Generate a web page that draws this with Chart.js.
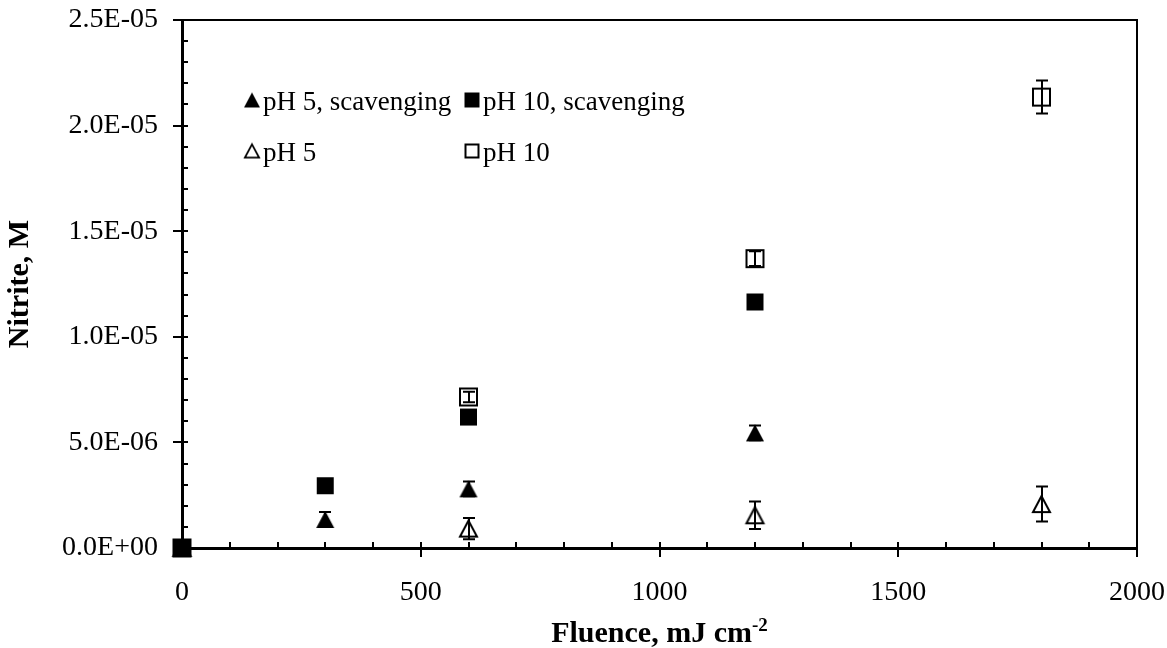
<!DOCTYPE html>
<html>
<head>
<meta charset="utf-8">
<script src="https://cdn.jsdelivr.net/npm/chart.js@4.4.0/dist/chart.umd.min.js"></script>
<style>
  html, body { margin: 0; padding: 0; background: #fff; }
  #wrap { width: 1167px; height: 648px; }
</style>
</head>
<body>
<div id="wrap"><canvas id="nitriteChart" width="1167" height="648"></canvas></div>
<script>
// values
const fluenceScav = [0, 300, 600, 1200];
const fluencePlain = [0, 600, 1200, 1800];

const ph5Scav = [0, 1.35e-6, 2.8e-6, 5.45e-6];
const ph5ScavErr = [0, 0.35e-6, 0.35e-6, 0.35e-6];
const ph10Scav = [0, 2.95e-6, 6.2e-6, 11.65e-6];
const ph10ScavErr = [0, 0, 0, 0];
const ph5 = [0, 0.92e-6, 1.55e-6, 2.08e-6];
const ph5Err = [0, 0.5e-6, 0.65e-6, 0.83e-6];
const ph10 = [0, 7.15e-6, 13.7e-6, 21.35e-6];
const ph10Err = [0, 0.25e-6, 0.35e-6, 0.78e-6];

const xTicks = [0, 500, 1000, 1500, 2000];
const yTicks = [0, 5e-6, 1e-5, 1.5e-5, 2e-5, 2.5e-5];

const FONT = "'Liberation Serif', 'Times New Roman', serif";

// 2.5e-5 -> "2.5E-05"
function sciLabel(v) {
  if (v === 0) return '0.0E+00';
  const exp = Math.floor(Math.log10(Math.abs(v)) + 1e-9);
  const m = v / Math.pow(10, exp);
  const e = Math.abs(exp);
  return m.toFixed(1) + 'E' + (exp < 0 ? '-' : '+') + (e < 10 ? '0' + e : e);
}

// marker images, centred on their bounding box like the original
function makeMarker(shape, filled, w, h, lw) {
  const pad = 3;
  const c = document.createElement('canvas');
  c.width = w + pad * 2;
  c.height = h + pad * 2;
  const g = c.getContext('2d');
  const ins = filled ? 0 : lw / 2;
  g.beginPath();
  if (shape === 'tri') {
    g.moveTo(pad + w / 2, pad + ins);
    g.lineTo(pad + w - ins, pad + h - ins);
    g.lineTo(pad + ins, pad + h - ins);
    g.closePath();
  } else {
    g.rect(pad + ins, pad + ins, w - 2 * ins, h - 2 * ins);
  }
  g.fillStyle = filled ? '#000' : '#fff';
  g.fill();
  if (!filled) {
    g.lineWidth = lw;
    g.strokeStyle = '#000';
    g.stroke();
  }
  return c;
}

const mk = {
  triFill: makeMarker('tri', true, 18, 17, 0),
  sqFill: makeMarker('sq', true, 17, 17, 0),
  triOpen: makeMarker('tri', false, 19, 18, 2),
  sqOpen: makeMarker('sq', false, 19, 19, 2)
};
const legMk = {
  triFill: makeMarker('tri', true, 16, 15, 0),
  sqFill: makeMarker('sq', true, 15, 15, 0),
  triOpen: makeMarker('tri', false, 16, 15, 1.8),
  sqOpen: makeMarker('sq', false, 15, 15, 2)
};

function pts(xs, ys) {
  return xs.map((x, i) => ({ x: x, y: ys[i] }));
}

const errorBars = {
  id: 'errorBars',
  afterDatasetsDraw(chart) {
    const ctx = chart.ctx;
    const xs = chart.scales.x, ys = chart.scales.y;
    ctx.save();
    ctx.strokeStyle = '#000';
    ctx.lineWidth = 2;
    chart.data.datasets.forEach(ds => {
      if (!ds.errs) return;
      ds.data.forEach((p, i) => {
        const e = ds.errs[i];
        if (!e) return;
        const px = Math.round(xs.getPixelForValue(p.x));
        const top = ys.getPixelForValue(p.y + e);
        const bot = ys.getPixelForValue(p.y - e);
        ctx.beginPath();
        ctx.moveTo(px, top); ctx.lineTo(px, bot);
        ctx.moveTo(px - 6, top); ctx.lineTo(px + 6, top);
        ctx.moveTo(px - 6, bot); ctx.lineTo(px + 6, bot);
        ctx.stroke();
      });
    });
    ctx.restore();
  }
};

// frame and tick marks: major ticks cross the axis, minor ones point inward
const axisMarks = {
  id: 'axisMarks',
  beforeDatasetsDraw(chart) {
    const ctx = chart.ctx;
    const a = chart.chartArea;
    const xs = chart.scales.x, ys = chart.scales.y;
    ctx.save();
    ctx.strokeStyle = '#000';
    ctx.lineWidth = 2;
    ctx.beginPath();
    ctx.moveTo(a.left, a.top); ctx.lineTo(a.right, a.top); ctx.lineTo(a.right, a.bottom);
    ctx.stroke();

    ctx.beginPath();
    for (let i = 0; i <= 20; i++) {
      const px = Math.round(xs.getPixelForValue(i * 100));
      const major = i % 5 === 0;
      ctx.moveTo(px, a.bottom - 6);
      ctx.lineTo(px, a.bottom + (major ? 9 : 0));
    }
    for (let j = 0; j <= 25; j++) {
      const py = Math.round(ys.getPixelForValue(j * 1e-6));
      const major = j % 5 === 0;
      ctx.moveTo(a.left - (major ? 9 : 0), py);
      ctx.lineTo(a.left + 6, py);
    }
    ctx.stroke();
    ctx.restore();
  }
};

const legendItems = [
  { img: 'triFill', text: 'pH 5, scavenging', x: 252, y: 100 },
  { img: 'sqFill', text: 'pH 10, scavenging', x: 472, y: 100 },
  { img: 'triOpen', text: 'pH 5', x: 252, y: 151 },
  { img: 'sqOpen', text: 'pH 10', x: 472, y: 151 }
];

const textBits = {
  id: 'textBits',
  afterDraw(chart) {
    const ctx = chart.ctx;
    const a = chart.chartArea;
    ctx.save();
    ctx.fillStyle = '#000';
    // legend inside the plot
    ctx.font = '27px ' + FONT;
    ctx.textAlign = 'left';
    ctx.textBaseline = 'alphabetic';
    legendItems.forEach(it => {
      const im = legMk[it.img];
      ctx.drawImage(im, it.x - im.width / 2, it.y - im.height / 2);
      ctx.fillText(it.text, it.x + 11, it.y + 10);
    });
    // x-axis title with superscript
    const main = 'Fluence, mJ cm';
    const sup = '-2';
    ctx.font = 'bold 30px ' + FONT;
    const w1 = ctx.measureText(main).width;
    ctx.font = 'bold 19px ' + FONT;
    const w2 = ctx.measureText(sup).width;
    const cx = (a.left + a.right) / 2;
    const x0 = cx - (w1 + w2) / 2;
    const base = 642;
    ctx.font = 'bold 30px ' + FONT;
    ctx.fillText(main, x0, base);
    ctx.font = 'bold 19px ' + FONT;
    ctx.fillText(sup, x0 + w1, base - 11);
    ctx.restore();
  }
};

function noPad(s) {
  s.paddingTop = 0;
  s.paddingBottom = 0;
  s.paddingLeft = 0;
  s.paddingRight = 0;
}

const ctx = document.getElementById('nitriteChart').getContext('2d');
new Chart(ctx, {
  type: 'scatter',
  data: {
    datasets: [
      { label: 'pH 5, scavenging', data: pts(fluenceScav, ph5Scav), errs: ph5ScavErr,
        pointStyle: mk.triFill, order: 1, clip: false },
      { label: 'pH 10, scavenging', data: pts(fluenceScav, ph10Scav), errs: ph10ScavErr,
        pointStyle: mk.sqFill, order: 0, clip: false },
      { label: 'pH 5', data: pts(fluencePlain, ph5), errs: ph5Err,
        pointStyle: mk.triOpen, order: 3, clip: false },
      { label: 'pH 10', data: pts(fluencePlain, ph10), errs: ph10Err,
        pointStyle: mk.sqOpen, order: 2, clip: false }
    ]
  },
  options: {
    responsive: false,
    animation: false,
    events: [],
    layout: { padding: { top: 20, right: 30, left: 0, bottom: 0 } },
    plugins: { legend: { display: false }, tooltip: { enabled: false } },
    elements: { point: { radius: 10, borderWidth: 0 } },
    scales: {
      x: {
        type: 'linear',
        min: 0, max: 2000,
        afterBuildTicks: s => { s.ticks = xTicks.map(v => ({ value: v })); },
        afterFit: s => { s.height = 100; noPad(s); },
        grid: { display: false, drawTicks: false },
        border: { display: true, color: '#000', width: 3 },
        ticks: { color: '#000', font: { family: FONT, size: 28 }, padding: 28, maxRotation: 0,
                 callback: v => String(v) }
      },
      y: {
        type: 'linear',
        min: 0, max: 2.5e-5,
        afterBuildTicks: s => { s.ticks = yTicks.map(v => ({ value: v })); },
        afterFit: s => { s.width = 182; noPad(s); },
        grid: { display: false, drawTicks: false },
        border: { display: true, color: '#000', width: 3 },
        ticks: { color: '#000', font: { family: FONT, size: 28 }, padding: 24, callback: v => sciLabel(v) },
        title: { display: true, text: 'Nitrite, M', color: '#000',
                 font: { family: FONT, size: 30, weight: 'bold' }, padding: { top: 2, bottom: 0 } }
      }
    }
  },
  plugins: [axisMarks, errorBars, textBits]
});
</script>
</body>
</html>
